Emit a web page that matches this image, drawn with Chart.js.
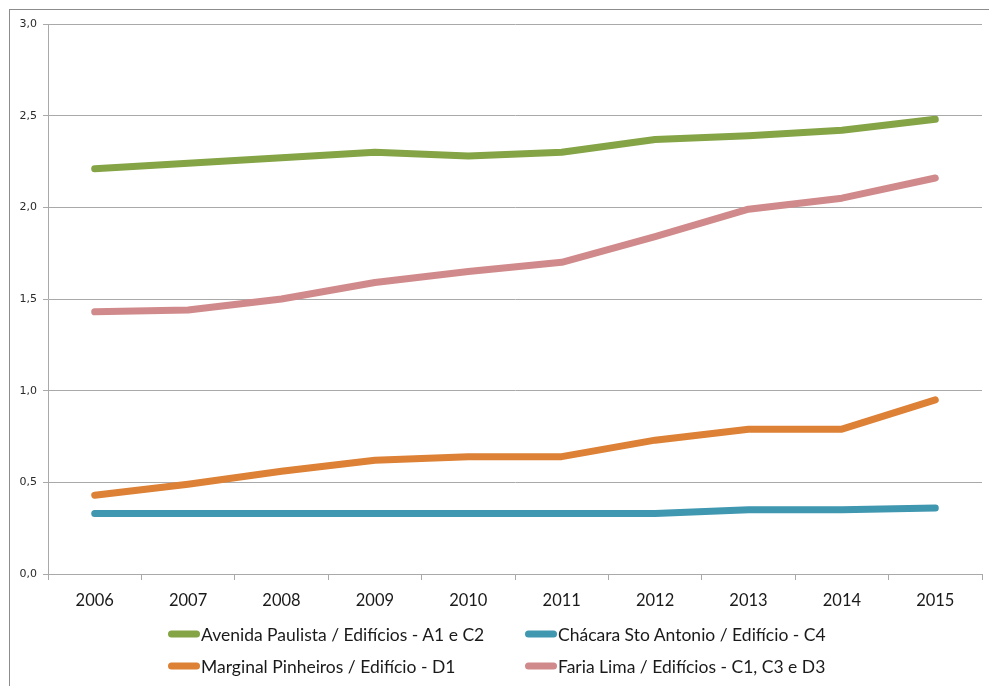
<!DOCTYPE html>
<html>
<head>
<meta charset="utf-8">
<script src="https://cdn.jsdelivr.net/npm/chart.js@4/dist/chart.umd.min.js"></script>
<style>
  html, body { margin: 0; padding: 0; background: #fff; }
  #wrap { position: relative; width: 989px; height: 686px; overflow: hidden; }
  #frame { position: absolute; left: 9px; top: 9px; right: -5px; bottom: -5px;
           border-left: 1px solid #8c8c8c; border-top: 1px solid #8c8c8c; }
  canvas { position: absolute; left: 0; top: 0; }
  #legend { position: absolute; left: 0; top: 0; width: 989px; height: 686px; pointer-events: none;
            font-family: Lato, "Open Sans", sans-serif; font-size: 17.5px; color: #1a1a1a; }
  .item { position: absolute; display: flex; align-items: center; white-space: nowrap; transform: translateY(-50%); }
  .sw { width: 32px; height: 7px; border-radius: 3.5px; margin-right: 1px; }
</style>
</head>
<body>
<div id="wrap">
  <div id="frame"></div>
  <canvas id="chart" width="989" height="686"></canvas>
  <div id="legend"></div>
</div>
<script>
// Years on the category axis
const years = ['2006', '2007', '2008', '2009', '2010', '2011', '2012', '2013', '2014', '2015'];

// Series names
const seriesNames = [
  'Avenida Paulista / Edifícios - A1 e C2',
  'Chácara Sto Antonio / Edifício - C4',
  'Marginal Pinheiros / Edifício - D1',
  'Faria Lima / Edifícios - C1, C3 e D3'
];

// Values per series
const avenidaPaulista = [2.21, 2.24, 2.27, 2.30, 2.28, 2.30, 2.37, 2.39, 2.42, 2.48];
const chacaraStoAntonio = [0.33, 0.33, 0.33, 0.33, 0.33, 0.33, 0.33, 0.35, 0.35, 0.36];
const marginalPinheiros = [0.43, 0.49, 0.56, 0.62, 0.64, 0.64, 0.73, 0.79, 0.79, 0.95];
const fariaLima = [1.43, 1.44, 1.50, 1.59, 1.65, 1.70, 1.84, 1.99, 2.05, 2.16];

// Y axis tick values
const yTicks = [0, 0.5, 1.0, 1.5, 2.0, 2.5, 3.0];

const seriesColors = ['#84a446', '#3f97b0', '#dd8136', '#d18a8b'];
const seriesValues = [avenidaPaulista, chacaraStoAntonio, marginalPinheiros, fariaLima];

const datasets = seriesNames.map((name, i) => ({
  label: name,
  data: seriesValues[i],
  borderColor: seriesColors[i],
  backgroundColor: seriesColors[i],
  borderWidth: 7,
  borderCapStyle: 'round',
  borderJoinStyle: 'round',
  pointRadius: 0,
  pointHoverRadius: 0,
  tension: 0,
  fill: false
}));

const gridColor = '#a9a9a9';

new Chart(document.getElementById('chart'), {
  type: 'line',
  data: { labels: years, datasets },
  options: {
    responsive: false,
    animation: false,
    layout: { padding: { left: 0, top: 24, right: 7, bottom: 72 } },
    plugins: { legend: { display: false }, tooltip: { enabled: false } },
    scales: {
      x: {
        offset: true,
        grid: { offset: true, drawOnChartArea: false, color: gridColor, tickLength: 6 },
        border: { color: gridColor },
        ticks: { color: '#1a1a1a', font: { family: 'Lato', size: 16.5 }, padding: 11, maxRotation: 0 },
        afterFit: (s) => { s.height = 40; }
      },
      y: {
        min: 0,
        max: 3,
        afterBuildTicks: (s) => { s.ticks = yTicks.map(v => ({ value: v })); },
        grid: { color: gridColor, tickLength: 5 },
        border: { color: gridColor },
        ticks: {
          color: '#2a2a2a',
          font: { family: 'DejaVu Sans', size: 11 },
          padding: 6,
          callback: (v) => Number(v).toFixed(1).replace('.', ',')
        },
        afterFit: (s) => { s.width = 48; }
      }
    }
  }
});

// Legend in two columns, built from the series names and colours
const legendPos = [
  { x: 168, y: 634 },
  { x: 525, y: 634 },
  { x: 168, y: 666 },
  { x: 525, y: 666 }
];
const legend = document.getElementById('legend');
seriesNames.forEach((name, i) => {
  const item = document.createElement('div');
  item.className = 'item';
  item.style.left = legendPos[i].x + 'px';
  item.style.top = legendPos[i].y + 'px';
  const sw = document.createElement('span');
  sw.className = 'sw';
  sw.style.background = seriesColors[i];
  const txt = document.createElement('span');
  txt.textContent = name;
  item.appendChild(sw);
  item.appendChild(txt);
  legend.appendChild(item);
});
</script>
</body>
</html>
